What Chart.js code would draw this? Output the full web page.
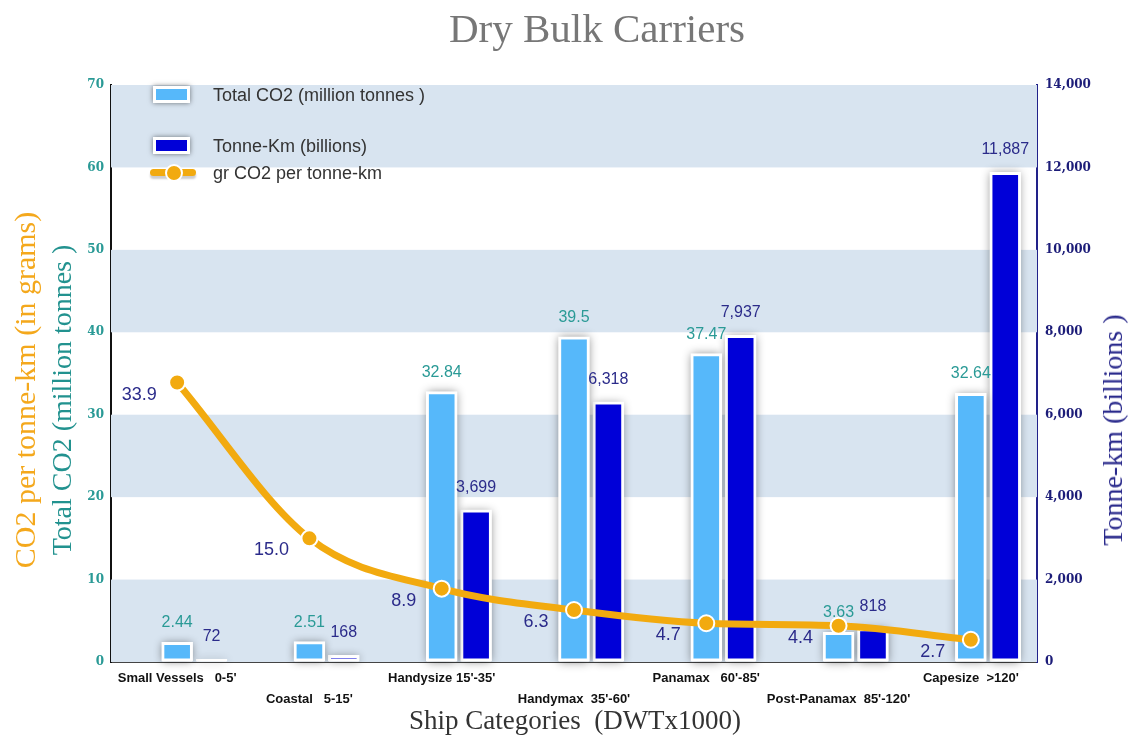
<!DOCTYPE html>
<html>
<head>
<meta charset="utf-8">
<title>Dry Bulk Carriers</title>
<script src="https://cdn.jsdelivr.net/npm/chart.js@4/dist/chart.umd.min.js"></script>
<style>
  body { margin: 0; background: #fff; }
  #wrap { position: relative; width: 1129px; height: 742px; overflow: hidden; }
  .txt { position: absolute; white-space: pre; line-height: 1; transform: translate(-50%, -50%); }
  .serif { font-family: 'Liberation Serif', 'DejaVu Serif', serif; }
  .rot { transform: translate(-50%, -50%) rotate(-90deg); }
  .leg { position: absolute; font: 18px 'Liberation Sans', Arial, sans-serif; color: #333; white-space: pre; line-height: 1; transform: translateY(-50%); }
  .sw { position: absolute; width: 31px; height: 11px; border: 3px solid #fff; box-shadow: 0 0 5px rgba(0,0,0,0.5); }
</style>
</head>
<body>
<div id="wrap">
  <canvas id="chart" width="1129" height="742"></canvas>

  <div class="txt serif" style="left:597px; top:28px; font-size:41px; color:#777;">Dry Bulk Carriers</div>
  <div class="txt serif rot" style="left:25px; top:390px; font-size:30px; color:#f4a81c;">CO2 per tonne-km (in grams)</div>
  <div class="txt serif rot" style="left:62px; top:400px; font-size:28px; color:#22928f;">Total CO2 (million tonnes )</div>
  <div class="txt serif rot" style="left:1113px; top:430px; font-size:28px; color:#2a2a8c;">Tonne-km (billions )</div>
  <div class="txt serif" style="left:575px; top:720px; font-size:27px; color:#333;">Ship Categories  (DWTx1000)</div>

  <div class="sw" style="left:153px; top:86px; background:#56b8fa;"></div>
  <div class="leg" style="left:213px; top:95px;">Total CO2 (million tonnes )</div>
  <div class="sw" style="left:153px; top:137px; background:#0000d8;"></div>
  <div class="leg" style="left:213px; top:146px;">Tonne-Km (billions)</div>
  <div style="position:absolute; left:150px; top:169px; width:46px; height:7px; border-radius:4px; background:#f2aa0f; box-shadow:0 3px 2px rgba(0,0,0,0.2);"></div>
  <div style="position:absolute; left:165px; top:164px; width:14px; height:14px; border-radius:50%; background:#f2aa0f; border:2px solid #fff;"></div>
  <div class="leg" style="left:213px; top:173px;">gr CO2 per tonne-km</div>
</div>

<script>
// chart values
const categories = ["Small Vessels   0-5'", "Coastal   5-15'", "Handysize 15'-35'", "Handymax  35'-60'",
  "Panamax   60'-85'", "Post-Panamax  85'-120'", "Capesize  >120'"];
const totalCO2 = [2.44, 2.51, 32.84, 39.5, 37.47, 3.63, 32.64];
const tonneKm = [72, 168, 3699, 6318, 7937, 818, 11887];
const grPerTonneKm = [33.9, 15.0, 8.9, 6.3, 4.7, 4.4, 2.7];
const co2Ticks = [0, 10, 20, 30, 40, 50, 60, 70];
const tkmTicks = [0, 2000, 4000, 6000, 8000, 10000, 12000, 14000];

const lightBlue = '#56b8fa';
const darkBlue = '#0000d8';
const orange = '#f2aa0f';
const teal = '#2a9a96';
const navy = '#2b2b8a';
const fmt = v => v.toLocaleString('en-US');

// alternate light-blue bands behind the plot
const bandsPlugin = {
  id: 'bands',
  beforeDatasetsDraw(chart) {
    const {ctx, chartArea: a, scales: {y}} = chart;
    ctx.save();
    ctx.fillStyle = '#d8e4f0';
    for (let i = 0; i < co2Ticks.length - 1; i += 2) {
      const top = y.getPixelForValue(co2Ticks[i + 1]);
      const bottom = y.getPixelForValue(co2Ticks[i]);
      ctx.fillRect(a.left, top, a.right - a.left, bottom - top);
    }
    ctx.restore();
  }
};

// soft grey shadow under each bar
const shadowPlugin = {
  id: 'barShadow',
  beforeDatasetDraw(chart, args) {
    const meta = args.meta;
    if (meta.type !== 'bar') return;
    const values = chart.data.datasets[args.index].data;
    const ctx = chart.ctx;
    ctx.save();
    ctx.shadowColor = 'rgba(0,0,0,0.45)';
    ctx.shadowBlur = 9;
    ctx.fillStyle = '#fff';
    meta.data.forEach((bar, i) => {
      if (values[i] == null) return;
      const w = bar.width;
      ctx.fillRect(bar.x - w / 2 + 1, bar.y + 1, w - 2, bar.base - bar.y - 1);
    });
    ctx.restore();
  }
};

// value labels
const labelPlugin = {
  id: 'valueLabels',
  afterDatasetsDraw(chart) {
    const ctx = chart.ctx;
    ctx.save();
    ctx.textAlign = 'center';
    ctx.textBaseline = 'middle';
    ctx.font = '16px "Liberation Sans", Arial, sans-serif';
    ctx.fillStyle = teal;
    chart.getDatasetMeta(2).data.forEach((bar, i) => ctx.fillText(String(totalCO2[i]), bar.x, bar.y - 19));
    ctx.fillStyle = navy;
    chart.getDatasetMeta(3).data.forEach((bar, i) => ctx.fillText(fmt(tonneKm[i]), bar.x, bar.y - 22));
    ctx.font = '18px "Liberation Sans", Arial, sans-serif';
    chart.getDatasetMeta(0).data.forEach((pt, i) => ctx.fillText(grPerTonneKm[i].toFixed(1), pt.x - 38, pt.y + 12));
    ctx.restore();
  }
};

const hiddenGrid = { display: true, color: 'rgba(0,0,0,0)', drawOnChartArea: false, drawTicks: false };

new Chart(document.getElementById('chart'), {
  data: {
    labels: categories,
    datasets: [
      {
        type: 'line', label: 'gr CO2 per tonne-km', data: grPerTonneKm, yAxisID: 'y',
        borderColor: orange, borderWidth: 7, cubicInterpolationMode: 'monotone',
        pointRadius: 8, pointBackgroundColor: orange, pointBorderColor: '#fff', pointBorderWidth: 2
      },
      { type: 'bar', label: 'spacer', data: categories.map(() => null), yAxisID: 'y' },
      {
        type: 'bar', label: 'Total CO2 (million tonnes )', data: totalCO2, yAxisID: 'y',
        backgroundColor: lightBlue, borderColor: '#fff', borderWidth: 3, borderSkipped: false
      },
      {
        type: 'bar', label: 'Tonne-Km (billions)', data: tonneKm, yAxisID: 'y1',
        backgroundColor: darkBlue, borderColor: '#fff', borderWidth: 3, borderSkipped: false
      }
    ]
  },
  options: {
    responsive: false,
    animation: false,
    layout: { padding: { top: 85, left: 0, right: 0, bottom: 0 } },
    datasets: { bar: { categoryPercentage: 0.78, barPercentage: 0.92 } },
    plugins: { legend: { display: false }, title: { display: false }, tooltip: { enabled: false } },
    scales: {
      x: {
        grid: hiddenGrid,
        border: { display: true, color: '#444', width: 2 },
        ticks: {
          autoSkip: false, maxRotation: 0, padding: 6, color: '#111',
          font: { family: "'Liberation Sans', Arial, sans-serif", size: 13, weight: 'bold', lineHeight: 1.6 },
          callback: (v, i) => i % 2 === 0 ? [categories[i], ''] : ['', categories[i]]
        },
        afterFit: s => { s.height = 80; }
      },
      y: {
        position: 'left', min: co2Ticks[0], max: co2Ticks[co2Ticks.length - 1],
        grid: hiddenGrid,
        border: { display: true, color: '#111', width: 2 },
        ticks: {
          stepSize: 10, padding: 7, color: teal,
          font: { family: "'DejaVu Serif', serif", size: 12, weight: 'bold' }
        },
        afterFit: s => { s.width = 111; }
      },
      y1: {
        position: 'right', min: tkmTicks[0], max: tkmTicks[tkmTicks.length - 1],
        grid: hiddenGrid,
        border: { display: true, color: '#22228a', width: 2 },
        ticks: {
          stepSize: 2000, padding: 8, color: '#1c1c78',
          font: { family: "'DejaVu Serif', serif", size: 12, weight: 'bold' },
          callback: v => fmt(v)
        },
        afterFit: s => { s.width = 92; }
      }
    }
  },
  plugins: [bandsPlugin, shadowPlugin, labelPlugin]
});
</script>
</body>
</html>
